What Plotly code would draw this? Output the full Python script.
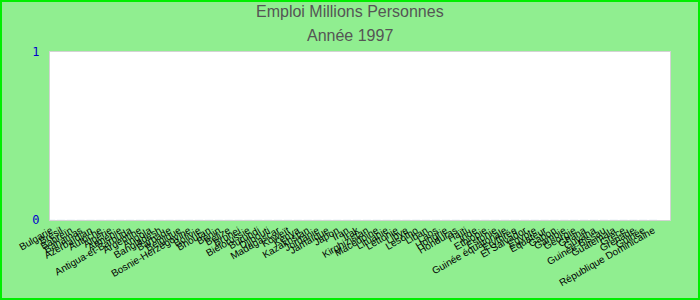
import plotly.graph_objects as go

countries = [
    "Bulgarie", "Brésil", "Bahreïn", "Bahamas", "Azerbaïdjan", "Autriche",
    "Algérie", "Arménie", "Antigua-et-Barbuda", "Argentine", "Angola",
    "Bangladesh", "Barbade", "Belgique", "Bosnie-Herzégovine", "Bolivie",
    "Bhoutan", "Bénin", "Belize", "Brunei", "Biélorussie", "Burundi",
    "Djibouti", "Madagascar", "Koweït", "Kenya", "Kazakhstan", "Jordanie",
    "Jamaïque", "Japon", "Iran", "Irak", "Kirghizistan", "Macédoine",
    "Lituanie", "Lettonie", "Libye", "Lesotho", "Liban", "Laos", "Hongrie",
    "Honduras", "Haïti", "Inde", "Ethiopie", "Estonie", "Guinée équatoriale",
    "Erythrée", "El Salvador", "Egypte", "Equateur", "Gabon", "Gambie",
    "Géorgie", "Ghana", "Guyana", "Guinée-Bissau", "Guatemala", "Grèce",
    "Grenade", "Guinée", "République Dominicaine",
]
emploi = [0] * len(countries)

title_line1 = "Emploi Millions Personnes"
title_line2 = "Année 1997"

W, H = 700, 300
L, R, T, B = 50, 30, 52, 80
pw, ph = W - L - R, H - T - B
n = len(countries)

fig = go.Figure(go.Bar(x=countries, y=emploi, marker_color="#4472c4"))

fig.update_layout(
    width=W, height=H,
    margin=dict(l=L, r=R, t=T, b=B, pad=0, autoexpand=False),
    paper_bgcolor="#90ee90",
    plot_bgcolor="white",
    showlegend=False,
    font=dict(family="Liberation Sans, Arial, sans-serif"),
    annotations=[
        dict(text=title_line1, xref="paper", yref="paper", x=0.5 - (L - R) / 2 / pw,
             y=1 + (T - 12) / ph, xanchor="center", yanchor="middle",
             showarrow=False, font=dict(size=16, color="#555555")),
        dict(text=title_line2, xref="paper", yref="paper", x=0.5 - (L - R) / 2 / pw,
             y=1 + (T - 36) / ph, xanchor="center", yanchor="middle",
             showarrow=False, font=dict(size=16, color="#555555")),
    ],
    shapes=[
        dict(type="rect", xref="paper", yref="paper",
             x0=-(L - 1) / pw, x1=1 + (R - 1) / pw,
             y0=-(B - 1) / ph, y1=1 + (T - 1) / ph,
             line=dict(color="#00ee00", width=2), fillcolor="rgba(0,0,0,0)", layer="above"),
    ],
)
fig.update_xaxes(
    type="category", tickmode="linear", tick0=0, dtick=1, tickangle=-30, showgrid=False,
    range=[-0.1, n + 0.7], automargin=False,
    tickfont=dict(size=10, color="black"),
    showline=True, linecolor="#d3d3d3", mirror=True, ticks="",
)
fig.update_yaxes(
    range=[0, 1], dtick=1, showgrid=False, zeroline=False, automargin=False,
    tickfont=dict(size=12, color="#0000cc", family="DejaVu Sans Mono, monospace"),
    showline=True, linecolor="#d3d3d3", mirror=True, ticks="", ticklabelstandoff=7,
)

fig.write_html("out.html")
